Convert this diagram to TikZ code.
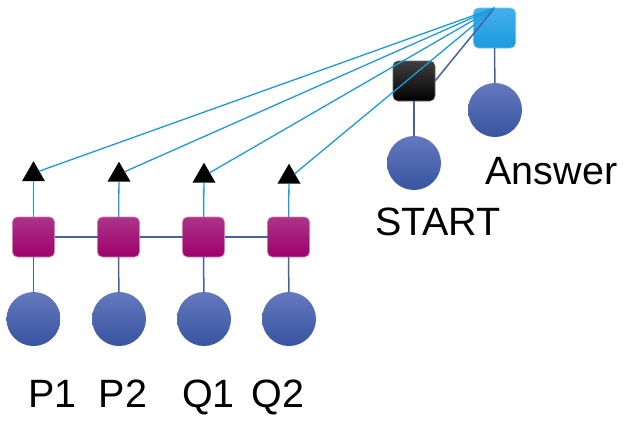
\documentclass[tikz,border=0pt]{standalone}
\usepackage{fontspec}
\setmainfont{Liberation Sans}
\usetikzlibrary{positioning,shapes.geometric}

\definecolor{plum}{RGB}{158,0,108}
\definecolor{plumtop}{RGB}{172,52,135}
\definecolor{dotblue}{RGB}{55,85,160}
\definecolor{dottop}{RGB}{100,120,190}
\definecolor{skyblue}{RGB}{25,155,222}
\definecolor{skytop}{RGB}{70,175,235}
\definecolor{linkblue}{RGB}{70,95,168}

\begin{document}
\begin{tikzpicture}[x=1pt, y=-1pt,
	every node/.style={inner sep=0pt, outer sep=0pt},
	cell/.style={minimum width=42pt, minimum height=40pt,
				 rounded corners=5pt, draw=plum!50!white, line width=0.6pt,
				 top color=plumtop, bottom color=plum},
	word/.style={circle, minimum size=54pt,
				 top color=dottop, bottom color=dotblue},
	outp/.style={regular polygon, regular polygon sides=3,
				 minimum size=26.6pt, fill=black},
	label/.style={font=\fontsize{39.5}{44}\selectfont, anchor=base},
	link/.style={linkblue, line width=1.5pt},
	attn/.style={skyblue, line width=1.3pt}
]
	\useasboundingbox (0,0) rectangle (635,426);

	% passage and question chain
	\node (s1) [cell] at (33.5,237) {};
	\node (s2) [cell, right=43pt of s1] {};
	\node (s3) [cell, right=43pt of s2] {};
	\node (s4) [cell, right=43pt of s3] {};
	\node (w1) [word] at (33.5,319) {};
	\node (w2) [word] at (119,319) {};
	\node (w3) [word] at (204,319) {};
	\node (w4) [word] at (289,319) {};
	\node (t1) [outp] at (33.5,174.5) {};
	\node (t2) [outp] at (119,175) {};
	\node (t3) [outp] at (204,176) {};
	\node (t4) [outp] at (289,177) {};

	% decoder
	\node (start) [cell, top color=black!75, bottom color=black, draw=black!60] at (414,81) {};
	\node (ans) [cell, top color=skytop, bottom color=skyblue, draw=skyblue!60!white] at (494.5,28) {};
	\node (wstart) [word] at (414,163) {};
	\node (wans) [word] at (495,110) {};

	\node (lp1) [label] at (52.5,407) {P1};
	\node (lp2) [label] at (123,407) {P2};
	\node (lq1) [label] at (208.5,407) {Q1};
	\node (lq2) [label] at (278,407) {Q2};
	\node (lstart) [label] at (438,235) {START};
	\node (lans) [label] at (551.5,184) {Answer};

	\foreach \i in {1,...,4} {
		\draw[link] (s\i) -- (w\i);
		\draw[attn] (t\i) -- (s\i);
	}
	\draw[link] (s1) -- (s2);
	\draw[link] (s2) -- (s3);
	\draw[link] (s3) -- (s4);
	\draw[link] (start) -- (wstart);
	\draw[link] (ans) -- (wans);
	\draw[link] (start.east) -- (ans.north);
	\foreach \i in {1,...,4}
		\draw[attn] (ans.north) -- (t\i.side 3);
\end{tikzpicture}
\end{document}
